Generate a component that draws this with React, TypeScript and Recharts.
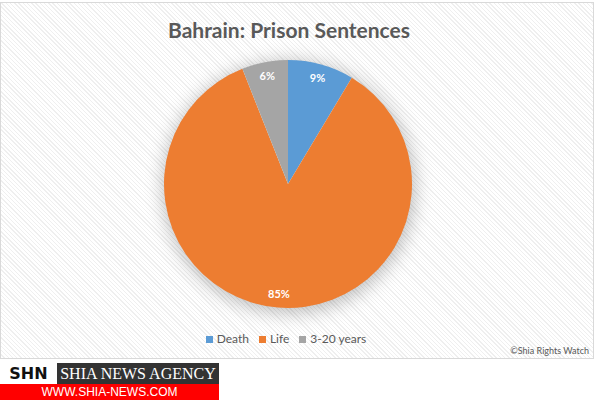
import { PieChart, Pie, Cell, Legend } from "recharts";

// Sentence categories and their shares (percent)
const CATEGORIES = ["Death", "Life", "3-20 years"];
const SHARES = [8.6, 85.4, 6.0];
const COLORS = ["#5B9BD5", "#ED7D31", "#A5A5A5"];

const pieData = CATEGORIES.map((name, i) => ({ name, value: SHARES[i] }));

const CX = 287;
const CY = 181;
const R = 124;
const RADIAN = Math.PI / 180;

const renderLabel = ({ cx, cy, midAngle, outerRadius, percent }: any) => {
  const r = outerRadius * 0.89;
  const x = cx + r * Math.cos(-midAngle * RADIAN);
  const y = cy + r * Math.sin(-midAngle * RADIAN);
  return (
    <text
      x={x}
      y={y}
      fill="#ffffff"
      textAnchor="middle"
      dominantBaseline="central"
      fontSize={11}
      fontWeight={700}
      fontFamily="Lato, 'Open Sans', sans-serif"
    >
      {`${Math.round(percent * 100)}%`}
    </text>
  );
};

export default function App() {
  return (
    <div style={{ position: "absolute", left: 0, top: 0, width: 600, height: 400, background: "#ffffff", overflow: "hidden" }}>
      {/* chart area */}
      <div
        style={{
          position: "absolute",
          left: 0,
          top: 2,
          width: 592,
          height: 355,
          border: "1px solid #d9d9d9",
          background: "repeating-linear-gradient(45deg, #ffffff 0px, #ffffff 2px, #efefef 2px, #efefef 3px)",
          fontFamily: "Lato, 'Open Sans', sans-serif",
        }}
      >
        <div
          style={{
            position: "absolute",
            left: 0,
            top: 14,
            width: 576,
            textAlign: "center",
            fontSize: 21,
            fontWeight: 700,
            color: "#595959",
          }}
        >
          Bahrain: Prison Sentences
        </div>

        {/* soft glow behind the pie */}
        <div
          style={{
            position: "absolute",
            left: CX - R + 2,
            top: CY - R + 2,
            width: R * 2 - 4,
            height: R * 2 - 4,
            borderRadius: "50%",
            background: "#ffffff",
            boxShadow: "1px 3px 18px 4px rgba(0,0,0,0.25)",
          }}
        />

        <PieChart
          width={592}
          height={355}
          margin={{ top: 0, right: 0, bottom: 0, left: 0 }}
          style={{ position: "absolute", left: 0, top: 0 }}
        >
          <Pie
            data={pieData}
            dataKey="value"
            nameKey="name"
            cx={CX}
            cy={CY}
            outerRadius={R}
            startAngle={90}
            endAngle={-270}
            stroke="none"
            label={renderLabel}
            labelLine={false}
            isAnimationActive={false}
          >
            {pieData.map((entry, i) => (
              <Cell key={entry.name} fill={COLORS[i]} />
            ))}
          </Pie>
          <Legend
            iconType="square"
            iconSize={7}
            itemSorter={(item: any) => CATEGORIES.indexOf(item.value)}
            wrapperStyle={{ top: 328, left: 0, width: 580, fontSize: 12 }}
            formatter={(value: string) => <span style={{ color: "#595959" }}>{value}</span>}
          />
        </PieChart>

        <div style={{ position: "absolute", right: 4, bottom: 2, fontSize: 9, color: "#595959" }}>
          ©Shia Rights Watch
        </div>
      </div>

      {/* watermark */}
      <div style={{ position: "absolute", left: 0, top: 363, width: 57, height: 21, background: "#ffffff", color: "#111", fontFamily: "'DejaVu Sans', sans-serif", fontWeight: 700, fontSize: 16, lineHeight: "21px", textAlign: "center" }}>
        SHN
      </div>
      <div style={{ position: "absolute", left: 57, top: 363, width: 162, height: 21, background: "#333333", color: "#ffffff", fontFamily: "'Liberation Serif', serif", fontSize: 16, lineHeight: "21px", textAlign: "center" }}>
        SHIA NEWS AGENCY
      </div>
      <div style={{ position: "absolute", left: 0, top: 384, width: 219, height: 16, background: "#ff0000", color: "#ffffff", fontFamily: "'Liberation Sans Narrow', 'Liberation Sans', sans-serif", fontSize: 12, lineHeight: "16px", textAlign: "center" }}>
        WWW.SHIA-NEWS.COM
      </div>
    </div>
  );
}
